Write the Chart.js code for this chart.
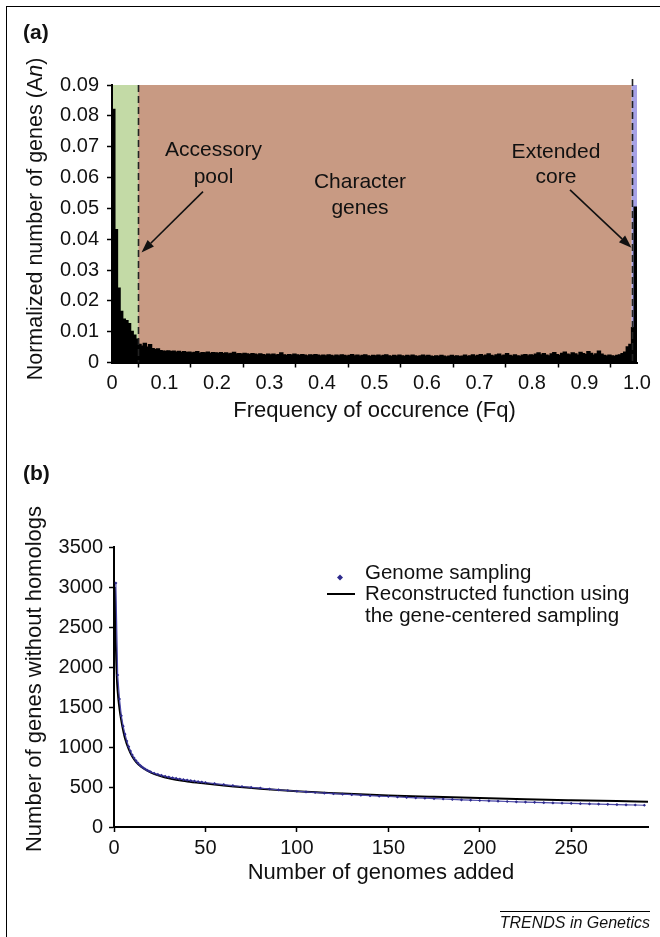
<!DOCTYPE html>
<html><head><meta charset="utf-8">
<script src="https://cdn.jsdelivr.net/npm/chart.js@4"></script>
<style>
html,body{margin:0;padding:0;background:#fff;}
body{width:660px;height:937px;position:relative;overflow:hidden;font-family:"Liberation Sans",Arial,Helvetica,sans-serif;color:#111;}
#ca{position:absolute;left:0;top:0;}
#cb{position:absolute;left:0;top:440px;}
.frameT{position:absolute;left:6px;top:6px;width:654px;height:0;border-top:1.5px solid #000;}
.frameL{position:absolute;left:6px;top:6px;width:0;height:931px;border-left:1.5px solid #000;}
.lab{position:absolute;font-weight:bold;font-size:21px;line-height:24px;}
.trends{position:absolute;right:10px;top:911px;white-space:nowrap;border-top:1px solid #000;text-align:right;font-style:italic;font-size:16px;line-height:18px;padding-top:2px;}
</style></head><body>
<div class="frameT"></div><div class="frameL"></div>
<canvas id="ca" width="660" height="440"></canvas>
<canvas id="cb" width="660" height="497"></canvas>
<div class="lab" style="left:23px;top:20px">(a)</div>
<div class="lab" style="left:23px;top:461px">(b)</div>
<div class="trends">TRENDS in Genetics</div>
<script>
// ---------------- Panel (a) data ----------------
const binWidth = 0.005;
const anValues = [
 0.082, 0.043, 0.024, 0.0165, 0.014, 0.0135, 0.0125, 0.010, 0.0088, 0.0075,
 0.0058, 0.0052, 0.0061, 0.0049, 0.0057, 0.0044, 0.0041, 0.0043, 0.0038, 0.0036,
 0.0035, 0.0037, 0.0034, 0.0036, 0.0033, 0.0035, 0.0032, 0.0034, 0.0031, 0.0033, 0.0030, 0.0032, 0.0034, 0.0029, 0.0031, 0.0030, 0.0033, 0.0029, 0.0031, 0.0030,
 0.0029, 0.0031, 0.0028, 0.0030, 0.0027, 0.0029, 0.0032, 0.0027, 0.0028, 0.0026, 0.0029, 0.0027, 0.0025, 0.0028, 0.0026, 0.0024, 0.0027, 0.0025, 0.0023, 0.0026,
 0.0024, 0.0026, 0.0023, 0.0025, 0.0030, 0.0024, 0.0022, 0.0025, 0.0023, 0.0026, 0.0024, 0.0022, 0.0025, 0.0023, 0.0021, 0.0024, 0.0022, 0.0025, 0.0023, 0.0021,
 0.0023, 0.0021, 0.0024, 0.0022, 0.0020, 0.0023, 0.0021, 0.0024, 0.0022, 0.0020, 0.0022, 0.0025, 0.0021, 0.0023, 0.0020, 0.0022, 0.0024, 0.0021, 0.0019, 0.0022,
 0.0021, 0.0023, 0.0020, 0.0022, 0.0024, 0.0021, 0.0019, 0.0022, 0.0020, 0.0023, 0.0021, 0.0019, 0.0022, 0.0020, 0.0023, 0.0021, 0.0018, 0.0021, 0.0023, 0.0020,
 0.0022, 0.0020, 0.0018, 0.0021, 0.0019, 0.0022, 0.0020, 0.0017, 0.0020, 0.0022, 0.0019, 0.0021, 0.0018, 0.0020, 0.0023, 0.0019, 0.0021, 0.0024, 0.0020, 0.0022,
 0.0025, 0.0021, 0.0023, 0.0027, 0.0022, 0.0020, 0.0024, 0.0026, 0.0021, 0.0023, 0.0028, 0.0022, 0.0020, 0.0024, 0.0021, 0.0019, 0.0023, 0.0025, 0.0021, 0.0024,
 0.0022, 0.0026, 0.0030, 0.0024, 0.0028, 0.0023, 0.0021, 0.0027, 0.0031, 0.0025, 0.0022, 0.0029, 0.0033, 0.0026, 0.0024, 0.0030, 0.0027, 0.0023, 0.0032, 0.0028,
 0.0025, 0.0034, 0.0029, 0.0023, 0.0027, 0.0036, 0.0026, 0.0022, 0.0020, 0.0023, 0.0021, 0.0019, 0.0022, 0.0024, 0.0028, 0.0033, 0.0050, 0.0058, 0.0112, 0.0503
];
const fqTickLabels = ['0','0.1','0.2','0.3','0.4','0.5','0.6','0.7','0.8','0.9','1.0'];
const anTickLabels = ['0','0.01','0.02','0.03','0.04','0.05','0.06','0.07','0.08','0.09'];
const regionEdges = [0, 0.05, 0.99, 1.0];
const regionNames = ['Accessory pool', 'Character genes', 'Extended core'];
const dashedAt = [0.05, 0.99];

// ---------------- Panel (b) data ----------------
const gsN = [1,2,3,4,5,6,7,8,9,10,11,12,13,14,15,16,17,18,19,20,
 22,24,26,28,30,32,34,36,38,40,42,44,46,48,50,
 55,60,65,70,75,80,85,90,95,100,105,110,115,120,125,130,135,140,145,150,
 155,160,165,170,175,180,185,190,195,200,205,210,215,220,225,230,235,240,245,250,
 255,260,265,270,275,280,285,290];
const gsVal = [3050,1900,1600,1390,1260,1160,1075,1005,950,900,862,830,802,778,757,740,725,712,700,690,
 672,657,645,634,624,615,607,599,592,585,579,573,567,562,556,
 543,530,518,506,495,485,475,465,456,447,439,431,424,417,410,404,398,392,386,381,
 375,370,365,360,355,350,345,340,335,331,327,323,319,315,311,308,304,301,298,295,
 292,289,286,283,280,277,275,272];
const rfN = [0.5,1,1.5,2,3,4,5,6,8,10,12,15,20,25,30,40,50,60,80,100,125,150,175,200,225,250,275,292];
const rfVal = [3000,2300,1900,1700,1480,1330,1210,1110,975,880,815,750,684,640,608,570,544,520,479,447,418,395,377,361,347,335,324,317];
const genomeTickLabels = ['0','50','100','150','200','250'];
const genesTickLabels = ['0','500','1000','1500','2000','2500','3000','3500'];
const seriesNames = ['Genome sampling', 'Reconstructed function using', 'the gene-centered sampling'];

// ---------------- styles ----------------
const FONT = '"Liberation Sans", Arial, Helvetica, sans-serif';
Chart.defaults.font.family = FONT;
Chart.defaults.color = '#111';
const regionColors = ['#c3daa6', '#c89a83', '#a6a2e6'];
const dotColor = '#2d2a8c';

function drawArrow(ctx, x0, y0, x1, y1) {
  const ang = Math.atan2(y1 - y0, x1 - x0);
  const L = 13, W = 4.5;
  const bx = x1 - L * Math.cos(ang), by = y1 - L * Math.sin(ang);
  ctx.strokeStyle = '#111'; ctx.lineWidth = 1.6; ctx.setLineDash([]);
  ctx.beginPath(); ctx.moveTo(x0, y0); ctx.lineTo(bx, by); ctx.stroke();
  ctx.fillStyle = '#111';
  ctx.beginPath();
  ctx.moveTo(x1, y1);
  ctx.lineTo(bx + W * Math.sin(ang), by - W * Math.cos(ang));
  ctx.lineTo(bx - W * Math.sin(ang), by + W * Math.cos(ang));
  ctx.closePath(); ctx.fill();
}
function drawRotatedTitle(ctx, cx, cy, parts, size) {
  ctx.save();
  ctx.translate(cx, cy); ctx.rotate(-Math.PI / 2);
  ctx.textBaseline = 'middle'; ctx.fillStyle = '#111';
  let total = 0;
  parts.forEach(p => { ctx.font = (p.italic ? 'italic ' : '') + size + 'px ' + FONT; p.w = ctx.measureText(p.t).width; total += p.w; });
  let x = -total / 2;
  ctx.textAlign = 'left';
  parts.forEach(p => { ctx.font = (p.italic ? 'italic ' : '') + size + 'px ' + FONT; ctx.fillText(p.t, x, 0); x += p.w; });
  ctx.restore();
}

// annotation layout for (a), in data units
const annoA = [
  {lines: ['Accessory', 'pool'], x: 0.1933, y: [0.0687, 0.0602], arrow: [0.1733, 0.0554, 0.0562, 0.0357]},
  {lines: ['Character', 'genes'], x: 0.4724, y: [0.0586, 0.0502]},
  {lines: ['Extended', 'core'], x: 0.8457, y: [0.0683, 0.0602], arrow: [0.8724, 0.0560, 0.9895, 0.0372]}
];

const pluginA = {
  id: 'panelA',
  beforeDraw(chart) {
    const {ctx, chartArea: {top, bottom}, scales: {x}} = chart;
    ctx.save();
    for (let i = 0; i < regionColors.length; i++) {
      const x0 = x.getPixelForValue(regionEdges[i]), x1 = x.getPixelForValue(regionEdges[i + 1]);
      ctx.fillStyle = regionColors[i];
      ctx.fillRect(x0, top, x1 - x0, bottom - top);
    }
    ctx.restore();
  },
  afterDraw(chart) {
    const {ctx, chartArea: {top, bottom}, scales: {x, y}} = chart;
    ctx.save();
    ctx.strokeStyle = '#222'; ctx.lineWidth = 1.6; ctx.setLineDash([7, 4]);
    dashedAt.forEach((v, i) => {
      const px = Math.round(x.getPixelForValue(v)) + 0.5;
      ctx.beginPath(); ctx.moveTo(px, top - (i === 1 ? 6 : 0)); ctx.lineTo(px, bottom); ctx.stroke();
    });
    ctx.setLineDash([]);
    ctx.font = '21px ' + FONT; ctx.fillStyle = '#111'; ctx.textAlign = 'center'; ctx.textBaseline = 'middle';
    annoA.forEach(a => {
      a.lines.forEach((t, k) => ctx.fillText(t, x.getPixelForValue(a.x), y.getPixelForValue(a.y[k])));
      if (a.arrow) drawArrow(ctx, x.getPixelForValue(a.arrow[0]), y.getPixelForValue(a.arrow[1]), x.getPixelForValue(a.arrow[2]), y.getPixelForValue(a.arrow[3]));
    });
    ctx.restore();
    drawRotatedTitle(ctx, 36, 219, [{t: 'Normalized number of genes (A'}, {t: 'n', italic: true}, {t: ')'}], 21.5);
  }
};

const axisCommon = (extra) => Object.assign({
  grid: {display: true, drawOnChartArea: false, drawTicks: true, tickLength: 5, tickColor: '#000', tickWidth: 1.5},
  border: {display: true, color: '#000', width: 2}
}, extra);

new Chart(document.getElementById('ca'), {
  type: 'bar',
  data: {
    datasets: [{
      data: anValues.map((v, i) => ({x: (i + 0.5) * binWidth, y: v})),
      backgroundColor: '#000', borderWidth: 0, barPercentage: 1, categoryPercentage: 1, inflateAmount: 0.9
    }]
  },
  options: {
    responsive: false, animation: false, events: [],
    layout: {padding: {left: 0, top: 85, right: 23, bottom: 0}},
    plugins: {legend: {display: false}, tooltip: {enabled: false}},
    scales: {
      x: axisCommon({
        type: 'linear', min: 0, max: 1, offset: false,
        ticks: {stepSize: 0.1, includeBounds: false, autoSkip: false, maxRotation: 0, padding: 4, color: '#111', font: {size: 20},
          callback: v => fqTickLabels[Math.round(v * 10)]},
        title: {display: true, text: 'Frequency of occurence (Fq)', color: '#111', font: {size: 22}, padding: {top: 0, bottom: 16}},
        afterFit(s) { s.height = 77.5; }
      }),
      y: axisCommon({
        type: 'linear', min: 0, max: 0.09,
        ticks: {stepSize: 0.01, includeBounds: false, padding: 8, color: '#111', font: {size: 20},
          callback: v => anTickLabels[Math.round(v * 100)]},
        afterFit(s) { s.width = 112; }
      })
    }
  },
  plugins: [pluginA]
});

const pluginB = {
  id: 'panelB',
  afterDraw(chart) {
    const ctx = chart.ctx;
    ctx.save();
    // legend
    ctx.fillStyle = dotColor;
    ctx.beginPath(); ctx.moveTo(340, 134.5); ctx.lineTo(343, 137.5); ctx.lineTo(340, 140.5); ctx.lineTo(337, 137.5); ctx.closePath(); ctx.fill();
    ctx.strokeStyle = '#000'; ctx.lineWidth = 2;
    ctx.beginPath(); ctx.moveTo(327, 154); ctx.lineTo(355, 154); ctx.stroke();
    ctx.font = '20.5px ' + FONT; ctx.fillStyle = '#111'; ctx.textAlign = 'left'; ctx.textBaseline = 'middle';
    ctx.fillText(seriesNames[0], 365, 133);
    ctx.fillText(seriesNames[1], 365, 154);
    ctx.fillText(seriesNames[2], 365, 176);
    ctx.restore();
    drawRotatedTitle(ctx, 35, 239, [{t: 'Number of genes without homologs'}], 22);
  }
};

new Chart(document.getElementById('cb'), {
  type: 'line',
  data: {
    datasets: [
      {label: seriesNames[0], data: gsN.map((n, i) => ({x: n, y: gsVal[i]})), showLine: true,
       borderColor: '#4a47a8', borderWidth: 1.2, pointStyle: 'rectRot', pointRadius: 1.6,
       pointBackgroundColor: dotColor, pointBorderWidth: 0, order: 0},
      {label: seriesNames[1], data: rfN.map((n, i) => ({x: n, y: rfVal[i]})),
       borderColor: '#000', borderWidth: 2, pointRadius: 0, cubicInterpolationMode: 'monotone', order: 1}
    ]
  },
  options: {
    responsive: false, animation: false, events: [],
    layout: {padding: {left: 0, top: 107, right: 12, bottom: 0}},
    plugins: {legend: {display: false}, tooltip: {enabled: false}},
    scales: {
      x: axisCommon({
        type: 'linear', min: 0, max: 292,
        ticks: {stepSize: 50, includeBounds: false, autoSkip: false, maxRotation: 0, padding: 4, color: '#111', font: {size: 20},
          callback: v => genomeTickLabels[Math.round(v / 50)]},
        title: {display: true, text: 'Number of genomes added', color: '#111', font: {size: 22}, padding: {top: 0, bottom: 51}},
        afterFit(s) { s.height = 110; }
      }),
      y: axisCommon({
        type: 'linear', min: 0, max: 3500,
        ticks: {stepSize: 500, includeBounds: false, padding: 6, color: '#111', font: {size: 20},
          callback: v => genesTickLabels[Math.round(v / 500)]},
        afterFit(s) { s.width = 114; }
      })
    }
  },
  plugins: [pluginB]
});
</script>
</body></html>
